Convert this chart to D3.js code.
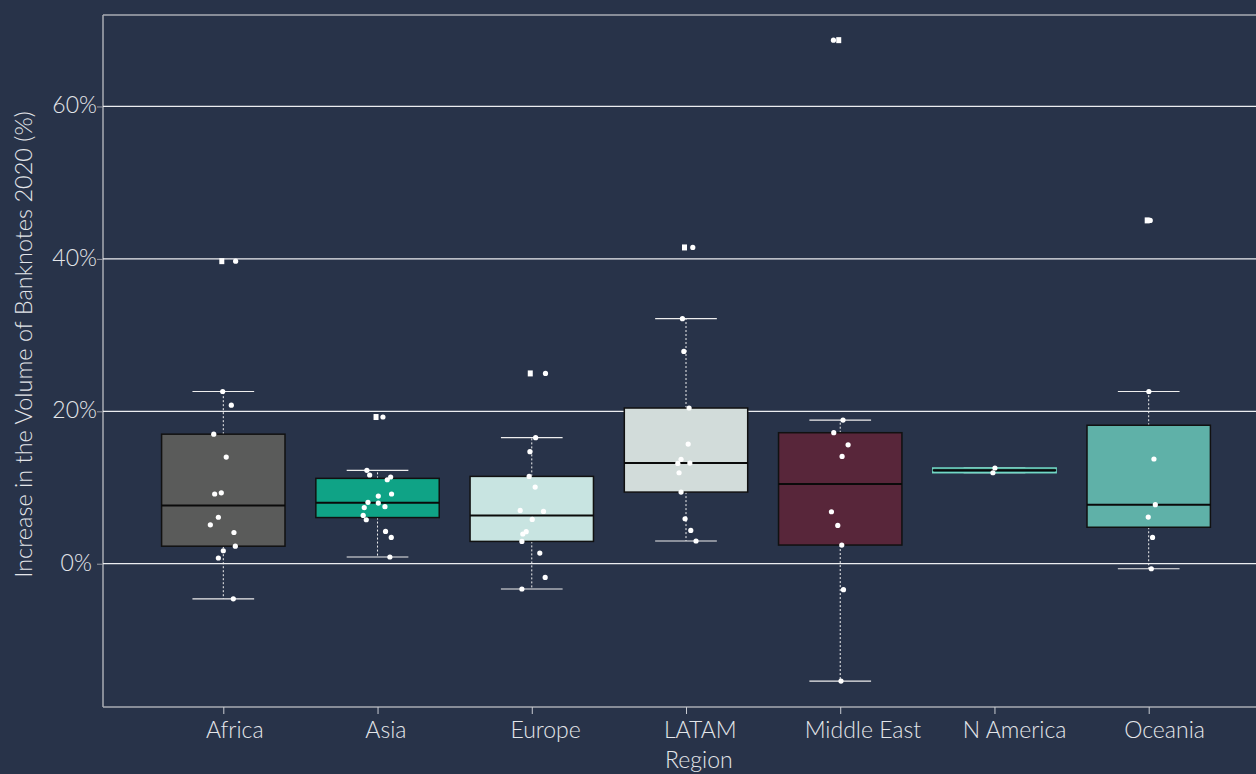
<!DOCTYPE html>
<html>
<head>
<meta charset="utf-8">
<script src="https://cdn.jsdelivr.net/npm/d3@7"></script>
<style>
  html, body { margin: 0; padding: 0; background: #283349; }
  svg { display: block; }
  text { font-family: "Lato", "Open Sans", sans-serif; font-weight: 300; }
</style>
</head>
<body>
<svg id="chart" width="1256" height="774"></svg>
<script>
// ---- data ----
const regions = ["Africa", "Asia", "Europe", "LATAM", "Middle East", "N America", "Oceania"];

const africa     = [39.7, 22.6, 20.8, 17.0, 14.0, 9.3, 9.15, 6.1, 5.1, 4.1, 2.3, 1.7, 0.75, -4.6];
const asia       = [19.25, 12.25, 11.64, 11.38, 11.02, 9.15, 8.88, 8.05, 7.96, 7.48, 7.35, 6.34, 5.77, 4.24, 3.45, 0.88];
const europe     = [24.97, 16.54, 14.7, 11.46, 10.06, 6.99, 6.86, 5.81, 4.2, 3.9, 2.93, 1.4, -1.8, -3.32];
const latam      = [41.5, 32.15, 27.86, 20.43, 15.7, 13.7, 13.2, 13.16, 11.94, 9.4, 5.9, 4.37, 2.98];
const middleEast = [68.7, 18.85, 17.19, 15.6, 14.08, 6.82, 5.03, 2.45, -3.41, -15.4];
const nAmerica   = [12.56, 11.94];
const oceania    = [45.05, 22.6, 13.74, 7.75, 6.12, 3.45, -0.66];

// horizontal jitter of each point, in % of the category step
const jitterAfrica     = [8.0, -0.4, 5.2, -6.2, 1.9, -1.3, -5.6, -3.2, -8.4, 6.9, 7.8, 0, -3.2, 6.5];
const jitterAsia       = [3.5, -6.9, -5.1, 8.5, 6.3, 9.1, 0.5, -6.2, 0.5, 4.8, -8.6, -9.3, -7.3, 5.2, 8.9, 8.0];
const jitterEurope     = [8.9, 2.5, -1.2, -1.7, 2.2, -7.5, 7.6, 0.3, -3.6, -5.8, -6.4, 5.2, 8.7, -6.4];
const jitterLatam      = [4.4, -2.3, -1.4, 2.0, 1.4, -3.2, 2.5, -5.3, -4.5, -3.2, -0.6, 3.1, 6.5];
const jitterMiddleEast = [-4.4, 1.8, -4.2, 5.1, 1.2, -5.7, -1.6, 1.0, 2.1, 0.5];
const jitterNAmerica   = [0.3, -1.0];
const jitterOceania    = [1.0, 0.1, 3.4, 4.3, -0.3, 2.5, 1.7];

const seriesValues = [africa, asia, europe, latam, middleEast, nAmerica, oceania];
const seriesJitter = [jitterAfrica, jitterAsia, jitterEurope, jitterLatam, jitterMiddleEast, jitterNAmerica, jitterOceania];

const yTicks = [0, 20, 40, 60];
const boxColors = ["#5a5b5a", "#0fa386", "#c8e4e1", "#d2dcda", "#58263a", "#2a6a66", "#5fb1a8"];
const boxStrokes = ["#111", "#111", "#111", "#111", "#111", "#72d7c4", "#111"];

// ---- layout ----
const svg = d3.select("#chart");
const mLeft = 103, mTop = 15, mBottom = 707, rightFrame = 1269;
const FS = "23px";
const TXT = "#e4e6ea";

const x = d3.scalePoint().domain(regions).range([mLeft, rightFrame]).padding(0.78);
const y = d3.scaleLinear().domain([-18.8, 72.0]).range([mBottom, mTop]);
const step = x.step();
const boxW = step * 0.8;
const capW = step * 0.4;

// Tukey hinges
function stats(vals) {
  const s = vals.slice().sort((a, b) => a - b);
  const n = s.length;
  const med = d3.median(s);
  const half = Math.ceil(n / 2);
  const lower = s.slice(0, half);
  const upper = s.slice(n - half);
  const q1 = d3.median(lower), q3 = d3.median(upper);
  const iqr = q3 - q1;
  const lo = q1 - 1.5 * iqr, hi = q3 + 1.5 * iqr;
  const inside = s.filter(v => v >= lo && v <= hi);
  return { q1, med, q3, wLo: d3.min(inside), wHi: d3.max(inside), outliers: s.filter(v => v < lo || v > hi) };
}

// frame
svg.append("line").attr("x1", mLeft).attr("x2", 1256).attr("y1", mTop).attr("y2", mTop)
  .attr("stroke", "#a9acb3").attr("stroke-width", 1.5);
svg.append("line").attr("x1", mLeft).attr("x2", 1256).attr("y1", mBottom).attr("y2", mBottom)
  .attr("stroke", "#a9acb3").attr("stroke-width", 1.5);
svg.append("line").attr("x1", mLeft).attr("x2", mLeft).attr("y1", mTop).attr("y2", mBottom)
  .attr("stroke", "#a9acb3").attr("stroke-width", 1.5);

// gridlines
svg.append("g").selectAll("line").data(yTicks).join("line")
  .attr("x1", mLeft).attr("x2", 1256)
  .attr("y1", d => y(d)).attr("y2", d => y(d))
  .attr("stroke", "#eceef1").attr("stroke-width", 1.2);

// y axis
const yAxis = svg.append("g").attr("transform", `translate(${mLeft},0)`)
  .call(d3.axisLeft(y).tickValues(yTicks).tickFormat(d => d + "%").tickSize(6).tickPadding(4));
yAxis.select(".domain").remove();
yAxis.selectAll(".tick line").attr("stroke", "#9a9da5");
yAxis.selectAll(".tick text").attr("fill", TXT).style("font-size", FS)
  .attr("dy", "0.28em").attr("text-anchor", "start")
  .attr("x", function () { return (80 - mLeft) - 0.62 * this.getComputedTextLength(); });

// x axis
const xAxis = svg.append("g").attr("transform", `translate(0,${mBottom})`)
  .call(d3.axisBottom(x).tickSize(7).tickPadding(4));
xAxis.select(".domain").remove();
xAxis.selectAll(".tick line").attr("stroke", "#c9ccd2");
xAxis.selectAll(".tick text").attr("fill", TXT).style("font-size", FS)
  .attr("dy", null).attr("y", 31).attr("text-anchor", "start")
  .attr("x", function () { return -0.31 * this.getComputedTextLength(); });

// axis titles
const xTitle = svg.append("text").attr("y", 768).attr("text-anchor", "start")
  .attr("fill", TXT).style("font-size", FS).text("Region");
xTitle.attr("x", (mLeft + rightFrame) / 2 - 0.31 * xTitle.node().getComputedTextLength());
svg.append("text").attr("transform", "translate(32,344.5) rotate(-90)").attr("text-anchor", "middle")
  .attr("fill", TXT).style("font-size", "23.5px")
  .text("Increase in the Volume of Banknotes 2020 (%)");

// boxes
regions.forEach((r, i) => {
  const cx = x(r);
  const st = stats(seriesValues[i]);
  const g = svg.append("g");
  // whiskers (dotted)
  g.append("line").attr("x1", cx).attr("x2", cx).attr("y1", y(st.q3)).attr("y2", y(st.wHi))
    .attr("stroke", "#f0f0f0").attr("stroke-width", 1).attr("stroke-dasharray", "2,2");
  g.append("line").attr("x1", cx).attr("x2", cx).attr("y1", y(st.q1)).attr("y2", y(st.wLo))
    .attr("stroke", "#f0f0f0").attr("stroke-width", 1).attr("stroke-dasharray", "2,2");
  // caps
  [st.wHi, st.wLo].forEach(v => {
    g.append("line").attr("x1", cx - capW / 2).attr("x2", cx + capW / 2)
      .attr("y1", y(v)).attr("y2", y(v)).attr("stroke", "#eeeeee").attr("stroke-width", 1.2);
  });
  // box
  g.append("rect").attr("x", cx - boxW / 2).attr("width", boxW)
    .attr("y", y(st.q3)).attr("height", Math.max(0, y(st.q1) - y(st.q3)))
    .attr("fill", boxColors[i]).attr("stroke", boxStrokes[i]).attr("stroke-width", 1.5);
  g.append("line").attr("x1", cx - boxW / 2).attr("x2", cx + boxW / 2)
    .attr("y1", y(st.med)).attr("y2", y(st.med)).attr("stroke", "#0a0a0a").attr("stroke-width", 2);
  // outlier markers (squares)
  g.selectAll("rect.out").data(st.outliers).join("rect").attr("class", "out")
    .attr("x", cx - 4).attr("y", d => y(d) - 3).attr("width", 5).attr("height", 6)
    .attr("fill", "#ffffff");
  // jittered points
  g.selectAll("circle").data(seriesValues[i].map((v, k) => ({ v, j: seriesJitter[i][k] }))).join("circle")
    .attr("cx", d => cx + d.j / 100 * step).attr("cy", d => y(d.v)).attr("r", 2.6)
    .attr("fill", "#ffffff");
});
</script>
</body>
</html>
